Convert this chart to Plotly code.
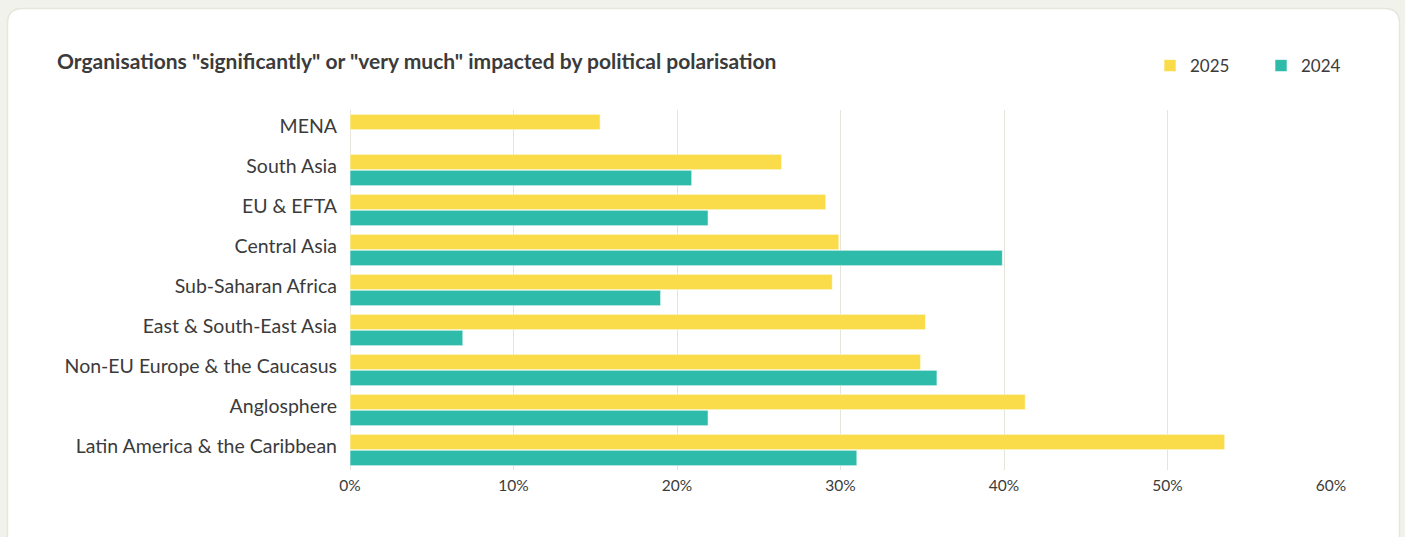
import plotly.graph_objects as go

# Regions, listed top to bottom
regions = [
    "MENA",
    "South Asia",
    "EU & EFTA",
    "Central Asia",
    "Sub-Saharan Africa",
    "East & South-East Asia",
    "Non-EU Europe & the Caucasus",
    "Anglosphere",
    "Latin America & the Caribbean",
]

# Share of organisations (%) "significantly" or "very much" impacted
values_2025 = [15.3, 26.4, 29.1, 29.9, 29.5, 35.2, 34.9, 41.3, 53.5]
values_2024 = [None, 20.9, 21.9, 39.9, 19.0, 6.9, 35.9, 21.9, 31.0]

tick_values = [0, 10, 20, 30, 40, 50, 60]
tick_labels = ["0%", "10%", "20%", "30%", "40%", "50%", "60%"]

title_text = 'Organisations "significantly" or "very much" impacted by political polarisation'

YELLOW = "#FADC4B"
TEAL = "#2EBBAA"
TEXT = "#3b3b3b"
GRID = "#e5e5db"
FONT = "Lato, sans-serif"

W, H = 1405, 537
ML, MR, MT, MB = 350, 74, 110, 67
PW, PH = W - ML - MR, H - MT - MB


def px_x(px):
    return (px - ML) / PW


def px_y(py):
    return (H - MB - py) / PH


fig = go.Figure()
fig.add_trace(go.Bar(
    name="2025", y=regions, x=values_2025, orientation="h",
    marker=dict(color=YELLOW, line=dict(color="rgba(255,255,255,0.6)", width=1)),
    hoverinfo="x+y",
))
fig.add_trace(go.Bar(
    name="2024", y=regions, x=values_2024, orientation="h",
    marker=dict(color=TEAL, line=dict(color="rgba(255,255,255,0.6)", width=1)),
    hoverinfo="x+y",
))

# Rounded white card on the light page background
x0, x1 = px_x(7.5), px_x(1399.5)
y0, y1 = px_y(8.5), px_y(560)
rx, ry = 15 / PW, 15 / PH
card_path = (
    f"M {x0 + rx},{y0} L {x1 - rx},{y0} Q {x1},{y0} {x1},{y0 - ry} "
    f"L {x1},{y1 + ry} Q {x1},{y1} {x1 - rx},{y1} "
    f"L {x0 + rx},{y1} Q {x0},{y1} {x0},{y1 + ry} "
    f"L {x0},{y0 - ry} Q {x0},{y0} {x0 + rx},{y0} Z"
)
fig.add_shape(type="path", path=card_path, xref="paper", yref="paper",
              fillcolor="white", line=dict(color="#e6e6dc", width=1.5),
              layer="below")

fig.add_annotation(
    text=f"<b>{title_text}</b>", xref="paper", yref="paper",
    x=px_x(55), y=px_y(60), xanchor="left", yanchor="middle",
    showarrow=False, font=dict(family=FONT, size=21, color=TEXT),
)

fig.update_layout(
    width=W, height=H,
    margin=dict(l=ML, r=MR, t=MT, b=MB, autoexpand=False),
    paper_bgcolor="#f2f2ec",
    plot_bgcolor="rgba(0,0,0,0)",
    barmode="group",
    bargap=0.2,
    bargroupgap=0.04,
    showlegend=True,
    legend=dict(
        orientation="h", x=px_x(1150), y=px_y(66), xanchor="left", yanchor="middle",
        bgcolor="rgba(0,0,0,0)", entrywidth=66, entrywidthmode="pixels",
        itemwidth=30, traceorder="normal",
        font=dict(family=FONT, size=17, color=TEXT),
    ),
    font=dict(family=FONT, color=TEXT),
)

fig.update_xaxes(
    range=[0, 60], tickvals=tick_values, ticktext=tick_labels,
    showgrid=True, gridcolor=GRID, gridwidth=1,
    zeroline=True, zerolinecolor=GRID, zerolinewidth=1,
    showline=False, ticks="", ticklabelstandoff=4,
    tickfont=dict(family=FONT, size=15.5, color=TEXT),
    fixedrange=True,
)
fig.update_yaxes(
    categoryorder="array", categoryarray=regions, autorange="reversed",
    showgrid=False, zeroline=False, showline=False, ticks="",
    ticklabelstandoff=12, ticklabelshift=4,
    tickfont=dict(family=FONT, size=19.5, color=TEXT),
    fixedrange=True,
)

fig.write_html("out.html")
